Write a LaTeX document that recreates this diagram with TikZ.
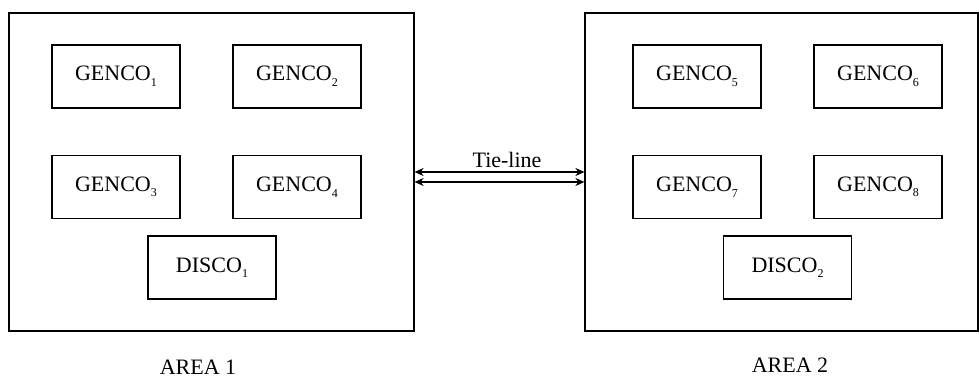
\documentclass[tikz,border=0pt]{standalone}
\usepackage{fontspec}
\setmainfont{Liberation Serif}
\usetikzlibrary{arrows.meta}

\newcommand{\lowidx}[1]{\raisebox{-0.55ex}{\fontsize{6}{6}\selectfont #1}}

\tikzset{
  unit/.style={draw, line width=0.6pt, minimum width=64pt, minimum height=31.5pt, inner sep=0pt, font=\fontsize{11}{13}\selectfont},
  areabox/.style={draw, line width=0.6pt, inner sep=0pt},
  tie/.style={line width=0.6pt, {Stealth[length=4.5pt,width=4pt]}-{Stealth[length=4.5pt,width=4pt]}},
  caption/.style={font=\fontsize{11}{13}\selectfont}
}

\begin{document}
\begin{tikzpicture}[x=0.5pt, y=-0.5pt]
\useasboundingbox (0,0) rectangle (979,378);
% areas
\node[areabox, minimum width=202.5pt, minimum height=159pt] (area1) at (211.5,172) {};
\node[areabox, minimum width=196.5pt, minimum height=159pt] (area2) at (781.5,172) {};
% area 1
\node[unit] (g1) at (116,76.5) {GENCO\lowidx{1}};
\node[unit] (g2) at (297,76.5) {GENCO\lowidx{2}};
\node[unit] (g3) at (116,187) {GENCO\lowidx{3}};
\node[unit] (g4) at (297,187) {GENCO\lowidx{4}};
\node[unit] (d1) at (212,267.5) {DISCO\lowidx{1}};
% area 2
\node[unit] (g5) at (697,76.5) {GENCO\lowidx{5}};
\node[unit] (g6) at (878,76.5) {GENCO\lowidx{6}};
\node[unit] (g7) at (697,187) {GENCO\lowidx{7}};
\node[unit] (g8) at (878,187) {GENCO\lowidx{8}};
\node[unit] (d2) at (787.5,267.5) {DISCO\lowidx{2}};
% tie-line
\draw[tie] (area1.east) -- (area2.west);
\draw[tie] ([yshift=-5pt]area1.east) -- ([yshift=-5pt]area2.west);
\node[caption] (tl) at (507,160) {Tie-line};
\node[caption] (a1) at (198,367) {AREA 1};
\node[caption] (a2) at (790,365) {AREA 2};
\end{tikzpicture}
\end{document}
